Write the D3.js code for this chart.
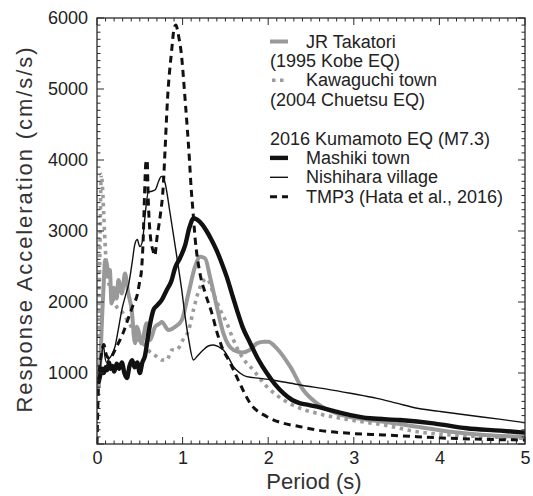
<!DOCTYPE html>
<html>
<head>
<meta charset="utf-8">
<script src="https://cdn.jsdelivr.net/npm/d3@7"></script>
<style>
  html, body { margin: 0; padding: 0; background: #fff; }
  svg { display: block; font-family: "Liberation Sans", Arial, Helvetica, sans-serif; }
</style>
</head>
<body>
<svg id="chart" width="533" height="496"></svg>
<script>
// Period (s) and response acceleration (cm/s/s) for each record
const jrTakatori = [
  [0.02, 800], [0.04, 1200], [0.06, 1800], [0.08, 2300], [0.094, 2590], [0.113, 2550],
  [0.132, 2355], [0.15, 2450], [0.17, 1980], [0.2, 2200], [0.23, 2050], [0.25, 2310],
  [0.29, 2120], [0.327, 2400], [0.366, 2120], [0.405, 1890], [0.444, 1418], [0.464, 1650],
  [0.483, 1600], [0.52, 1418], [0.58, 1700], [0.62, 1465], [0.678, 1650], [0.737, 1700],
  [0.757, 1720], [0.834, 1605], [0.912, 1650], [0.99, 1745], [1.068, 2120], [1.146, 2500],
  [1.205, 2637], [1.263, 2615], [1.32, 2355], [1.4, 1933], [1.477, 1558], [1.594, 1324],
  [1.7, 1290], [1.79, 1330], [1.868, 1418], [1.95, 1440], [2.0, 1440], [2.1, 1347],
  [2.257, 1089], [2.41, 760], [2.57, 573], [2.8, 432], [3.04, 362], [3.35, 314],
  [3.74, 244], [4.13, 173], [4.52, 127], [5.0, 103]
];
const kawaguchi = [
  [0.02, 1500], [0.035, 2800], [0.05, 3800], [0.065, 3600], [0.08, 3200], [0.1, 2700],
  [0.12, 2400], [0.15, 2200], [0.2, 2000], [0.25, 1900], [0.3, 1850], [0.35, 1750],
  [0.4, 1650], [0.45, 1500], [0.5, 1450], [0.55, 1400], [0.6, 1320], [0.65, 1270],
  [0.7, 1230], [0.757, 1183], [0.815, 1183], [0.874, 1324], [0.932, 1330], [1.01, 1480],
  [1.07, 1600], [1.127, 1890], [1.2, 2200], [1.283, 2330], [1.36, 2120], [1.44, 1890],
  [1.517, 1700], [1.594, 1465], [1.67, 1277], [1.75, 1136], [1.79, 1089], [1.985, 807],
  [2.18, 620], [2.374, 503], [2.57, 432], [2.96, 338], [3.35, 267], [3.74, 173],
  [4.13, 127], [4.52, 103], [5.0, 80]
];
const mashiki = [
  [0.02, 880], [0.04, 980], [0.06, 1060], [0.08, 1000], [0.1, 1080], [0.12, 1040],
  [0.14, 1150], [0.16, 1060], [0.18, 1100], [0.2, 1020], [0.23, 1130], [0.26, 1060],
  [0.29, 1150], [0.32, 1000], [0.35, 930], [0.38, 1100], [0.41, 1180], [0.44, 1080],
  [0.47, 1150], [0.5, 1000], [0.53, 1150], [0.56, 1240], [0.6, 1550], [0.63, 1750],
  [0.66, 1890], [0.7, 1950], [0.757, 2030], [0.815, 2170], [0.87, 2300], [0.912, 2480],
  [0.97, 2620], [1.03, 2800], [1.08, 3050], [1.13, 3180], [1.17, 3160], [1.23, 3090],
  [1.28, 3000], [1.34, 2870], [1.4, 2720], [1.46, 2540], [1.517, 2350], [1.58, 2100],
  [1.634, 1890], [1.7, 1650], [1.79, 1420], [1.88, 1200], [1.985, 995], [2.08, 840],
  [2.18, 713], [2.28, 620], [2.374, 573], [2.47, 550], [2.57, 525], [2.76, 465],
  [2.96, 408], [3.19, 362], [3.54, 338], [3.93, 291], [4.32, 221], [4.71, 188], [5.0, 160]
];
const nishihara = [
  [0.02, 900], [0.04, 1100], [0.06, 1300], [0.075, 1400], [0.09, 1250], [0.11, 1150],
  [0.14, 1200], [0.17, 1250], [0.21, 1370], [0.25, 1620], [0.29, 1890], [0.33, 2080],
  [0.37, 2250], [0.41, 2550], [0.44, 2800], [0.47, 2880], [0.5, 2780], [0.53, 2850],
  [0.56, 3200], [0.6, 3550], [0.64, 3560], [0.68, 3580], [0.72, 3700], [0.75, 3770],
  [0.79, 3700], [0.854, 3250], [0.932, 2640], [0.99, 2170], [1.03, 1790], [1.07, 1480],
  [1.127, 1183], [1.18, 1250], [1.24, 1324], [1.3, 1380], [1.36, 1394], [1.42, 1370],
  [1.477, 1324], [1.53, 1230], [1.594, 1090], [1.67, 1000], [1.75, 948], [1.906, 925],
  [2.1, 890], [2.374, 831], [2.7, 770], [2.96, 714], [3.27, 643], [3.5, 575],
  [3.74, 503], [4.0, 460], [4.32, 408], [4.7, 350], [5.0, 300]
];
const tmp3 = [
  [0.0, 0], [0.02, 900], [0.05, 1250], [0.08, 1400], [0.11, 1250], [0.15, 1200],
  [0.2, 1300], [0.25, 1420], [0.3, 1550], [0.36, 1750], [0.42, 1950], [0.47, 2100],
  [0.5, 2300], [0.52, 2450], [0.54, 2900], [0.555, 3500], [0.57, 3950], [0.585, 4000],
  [0.6, 3400], [0.62, 2970], [0.66, 2700], [0.675, 2650], [0.7, 2900], [0.737, 3200],
  [0.776, 3670], [0.795, 4140], [0.823, 4840], [0.873, 5550], [0.9, 5850], [0.92, 5900],
  [0.96, 5700], [0.98, 5550], [1.03, 4840], [1.08, 4000], [1.1, 3600], [1.12, 3300],
  [1.146, 2900], [1.2, 2420], [1.263, 2130], [1.34, 1850], [1.4, 1580], [1.458, 1370],
  [1.556, 1140], [1.65, 900], [1.79, 573], [1.985, 385], [2.18, 291], [2.374, 244],
  [2.57, 197], [2.96, 150], [3.35, 127], [3.74, 103], [4.13, 80], [4.52, 66], [5.0, 56]
];

const xTickValues = [0, 1, 2, 3, 4, 5];
const yTickValues = [1000, 2000, 3000, 4000, 5000, 6000];

const legendLines = [
  { key: "jr",   text: "JR Takatori",            indent: true },
  { key: null,   text: "(1995 Kobe EQ)",         indent: false },
  { key: "kw",   text: "Kawaguchi town",         indent: true },
  { key: null,   text: "(2004 Chuetsu EQ)",      indent: false },
  { key: null,   text: "",                       indent: false },
  { key: null,   text: "2016 Kumamoto EQ (M7.3)", indent: false },
  { key: "ms",   text: "Mashiki town",           indent: true },
  { key: "nh",   text: "Nishihara village",      indent: true },
  { key: "tmp",  text: "TMP3 (Hata et al., 2016)", indent: true }
];

const styles = {
  kw:  { color: "#9c9c9c", width: 3.6, dash: "3.5,4.5", cap: "butt" },
  jr:  { color: "#999999", width: 4,   dash: null,      cap: "round" },
  nh:  { color: "#111111", width: 1.4, dash: null,      cap: "round" },
  ms:  { color: "#111111", width: 4.4, dash: null,      cap: "round" },
  tmp: { color: "#111111", width: 3,   dash: "7,5",     cap: "butt" }
};

const svg = d3.select("#chart");
const margin = { left: 97, right: 8, top: 18, bottom: 52 };
const W = 533, H = 496;
const x0 = margin.left, x1 = W - margin.right;
const y0 = margin.top, y1 = H - margin.bottom;

const x = d3.scaleLinear().domain([0, 5]).range([x0, x1]);
const y = d3.scaleLinear().domain([0, 6000]).range([y1, y0]);

svg.append("defs").append("clipPath").attr("id", "plotClip")
  .append("rect").attr("x", x0).attr("y", y0 - 2).attr("width", x1 - x0).attr("height", y1 - y0 + 2);

// Curves
const line = d3.line().x(d => x(d[0])).y(d => y(d[1])).curve(d3.curveMonotoneX);
const curves = svg.append("g").attr("clip-path", "url(#plotClip)");
[["kw", kawaguchi], ["jr", jrTakatori], ["nh", nishihara], ["ms", mashiki], ["tmp", tmp3]]
  .forEach(([k, data]) => {
    const s = styles[k];
    curves.append("path")
      .datum(data)
      .attr("d", line)
      .attr("fill", "none")
      .attr("stroke", s.color)
      .attr("stroke-width", s.width)
      .attr("stroke-linecap", s.cap)
      .attr("stroke-linejoin", "round")
      .attr("stroke-dasharray", s.dash);
  });

// Frame with inward ticks on all four sides
const axisColor = "#2a2a2a";
const ticks = svg.append("g").attr("stroke", axisColor).attr("stroke-width", 1);
const xMinor = d3.range(0, 51).map(i => i / 10);
const yMinor = d3.range(0, 61).map(i => i * 100);
xMinor.forEach(v => {
  const major = Math.abs(v - Math.round(v)) < 1e-9;
  const len = major ? 7 : 3.5;
  ticks.append("line").attr("x1", x(v)).attr("x2", x(v)).attr("y1", y1).attr("y2", y1 - len);
  ticks.append("line").attr("x1", x(v)).attr("x2", x(v)).attr("y1", y0).attr("y2", y0 + len);
});
yMinor.forEach(v => {
  const major = v % 1000 === 0;
  const len = major ? 7 : 3.5;
  ticks.append("line").attr("y1", y(v)).attr("y2", y(v)).attr("x1", x0).attr("x2", x0 + len);
  ticks.append("line").attr("y1", y(v)).attr("y2", y(v)).attr("x1", x1).attr("x2", x1 - len);
});
svg.append("rect")
  .attr("x", x0).attr("y", y0).attr("width", x1 - x0).attr("height", y1 - y0)
  .attr("fill", "none").attr("stroke", axisColor).attr("stroke-width", 1.3);

// Tick labels through d3 axes (lines hidden, labels kept)
const xAxis = svg.append("g")
  .attr("transform", `translate(0,${y1})`)
  .call(d3.axisBottom(x).tickValues(xTickValues).tickFormat(d3.format("d")).tickSize(0).tickPadding(7));
const yAxis = svg.append("g")
  .attr("transform", `translate(${x0},0)`)
  .call(d3.axisLeft(y).tickValues(yTickValues).tickFormat(d3.format("d")).tickSize(0).tickPadding(9));
[xAxis, yAxis].forEach(g => {
  g.select(".domain").remove();
  g.selectAll("text")
    .attr("fill", "#222")
    .style("font-size", "18px")
    .style("font-family", "'Liberation Sans', Arial, sans-serif");
});

// Axis titles
svg.append("text")
  .attr("x", (x0 + x1) / 2 + 3).attr("y", 489)
  .attr("text-anchor", "middle")
  .attr("fill", "#333")
  .style("font-size", "22px")
  .text("Period (s)");
svg.append("text")
  .attr("transform", `translate(32,230) rotate(-90)`)
  .attr("text-anchor", "middle")
  .attr("fill", "#333")
  .attr("textLength", 365)
  .attr("lengthAdjust", "spacing")
  .style("font-size", "22px")
  .text("Response Acceleration (cm/s/s)");

// Legend
const legend = svg.append("g");
const lx = 270, lxText = 306, lyFirst = 47.5, lStep = 19.4;
legendLines.forEach((item, i) => {
  const by = lyFirst + i * lStep;
  if (item.text) {
    legend.append("text")
      .attr("x", item.indent ? lxText : lx)
      .attr("y", by)
      .attr("fill", "#222")
      .style("font-size", "18px")
      .text(item.text);
  }
  if (item.key) {
    const s = styles[item.key];
    const ly = by - 6;
    let xa = lx, xb = lx + 18;
    if (item.key === "kw") { xa = lx + 2; xb = lx + 16; }
    legend.append("line")
      .attr("x1", xa).attr("x2", xb).attr("y1", ly).attr("y2", ly)
      .attr("stroke", s.color)
      .attr("stroke-width", item.key === "nh" ? 1.4 : s.width)
      .attr("stroke-dasharray", s.dash);
  }
});
</script>
</body>
</html>
